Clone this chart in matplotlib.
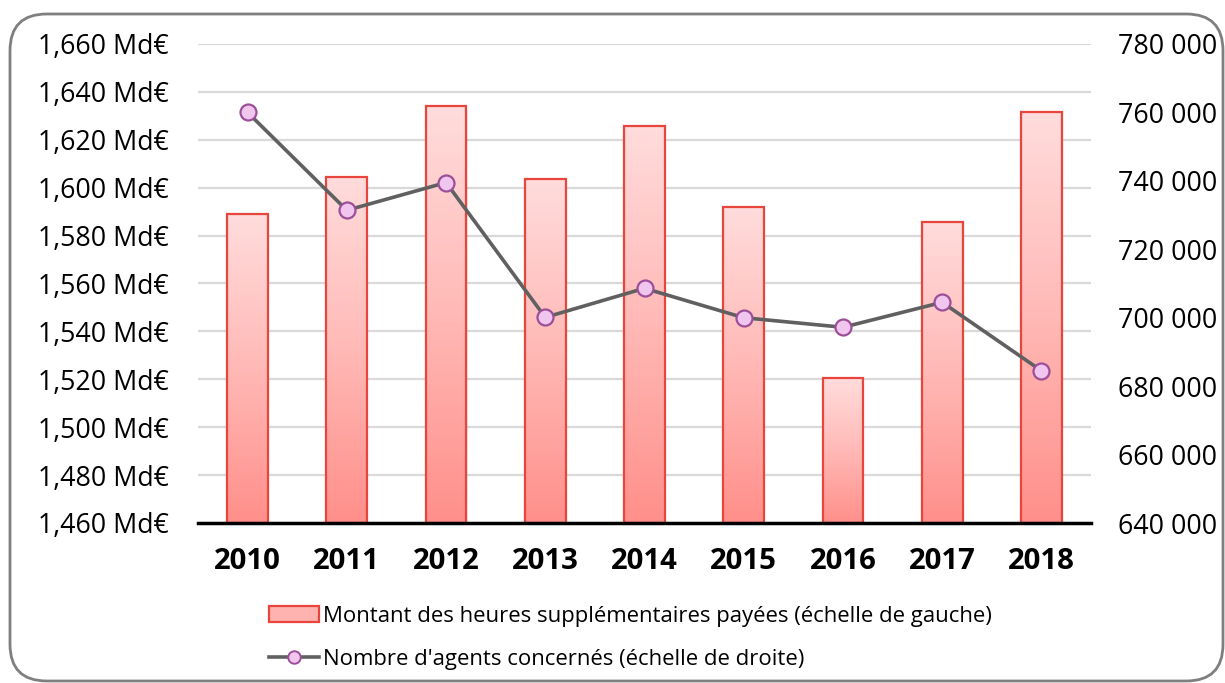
import matplotlib
matplotlib.use("Agg")
import matplotlib.pyplot as plt
import numpy as np
from matplotlib.patches import FancyBboxPatch, Rectangle
from matplotlib.lines import Line2D
from matplotlib.ticker import FuncFormatter, MultipleLocator
from matplotlib.colors import LinearSegmentedColormap

plt.rcParams['font.family'] = ['Open Sans', 'DejaVu Sans']

years = ["2010", "2011", "2012", "2013", "2014", "2015", "2016", "2017", "2018"]
montant = [1.589, 1.6045, 1.634, 1.6035, 1.6258, 1.592, 1.5205, 1.5857, 1.6315]
agents = [760000, 731400, 739500, 700100, 708600, 700000, 697200, 704500, 684500]

bar_label = "Montant des heures supplémentaires payées (échelle de gauche)"
line_label = "Nombre d'agents concernés (échelle de droite)"

fig = plt.figure(figsize=(12.25, 6.83), dpi=100)
fig.patch.set_facecolor("white")

border = FancyBboxPatch((10/1225, 2/683), 1213/1225, 667/683,
                        boxstyle="round,pad=0,rounding_size=0.03",
                        transform=fig.transFigure, facecolor="none",
                        edgecolor="#7f7f7f", linewidth=2.0, zorder=-1,
                        mutation_aspect=1225/683)
fig.patches.append(border)

ax = fig.add_axes([198/1225, 1 - 523/683, (1091-198)/1225, (523-44)/683])
ax.set_facecolor("none")
x = np.arange(len(years))
ax.yaxis.set_major_locator(MultipleLocator(0.020))
ax.yaxis.set_major_formatter(FuncFormatter(lambda v, p: f"{v:.3f}".replace(".", ",") + " Md€"))
ax.grid(axis="y", color="#d9d9d9", linewidth=1.6, zorder=0)
ax.set_axisbelow(True)
for s in ["top", "right", "left"]:
    ax.spines[s].set_visible(False)
ax.spines["bottom"].set_color("black")
ax.spines["bottom"].set_linewidth(2.5)
ax.spines["bottom"].set_zorder(5)
ax.tick_params(axis="y", length=0, pad=21, labelsize=19.3)
ax.tick_params(axis="x", length=0, pad=17.5, labelsize=21.2)
ax.set_xticks(x)
ax.set_xticklabels(years, fontweight="bold")

# gradient bars
width = 0.41
grad = np.linspace(0, 1, 256).reshape(-1, 1)
cmap = LinearSegmentedColormap.from_list("pinkgrad", ["#ff8f8a", "#ffb9b6", "#ffdcdc"])
bars = ax.bar(x, np.array(montant) - 1.460, bottom=1.460, width=width,
              facecolor="none", edgecolor="#e8463c", linewidth=1.6, zorder=3)
for b in bars:
    x0, y0 = b.get_x(), b.get_y()
    w, h = b.get_width(), b.get_height()
    sh = Rectangle((x0 + 0.012, y0), w, h - 0.0015, facecolor="#000000", alpha=0.08,
                   edgecolor="none", zorder=2)
    ax.add_patch(sh)
    ax.imshow(grad, extent=[x0, x0 + w, y0, y0 + h], origin="lower",
              cmap=cmap, aspect="auto", zorder=2.5, interpolation="bicubic")
ax.set_xlim(-0.5, len(years) - 0.5)
ax.set_ylim(1.460, 1.660)

ax2 = ax.twinx()
ax2.set_ylim(640000, 780000)
ax2.yaxis.set_major_locator(MultipleLocator(20000))
ax2.yaxis.set_major_formatter(FuncFormatter(lambda v, p: f"{int(v):,}".replace(",", " ")))
for s in ["top", "right", "left", "bottom"]:
    ax2.spines[s].set_visible(False)
ax2.tick_params(axis="y", length=0, pad=19.5, labelsize=19.3)
ax2.plot(x, agents, color="#606060", linewidth=2.6, zorder=4,
         marker="o", markersize=11.5, markerfacecolor="#f0c6ee",
         markeredgecolor="#9c4f98", markeredgewidth=1.6)

handles = [
    Rectangle((0, 0), 1, 1, facecolor="#ffb3b0", edgecolor="#e8463c", linewidth=1.6),
    Line2D([0], [0], color="#606060", linewidth=2.6, marker="o", markersize=9,
           markerfacecolor="#f0c6ee", markeredgecolor="#9c4f98", markeredgewidth=1.4),
]
fig.legend(handles, [bar_label, line_label], loc="center",
           bbox_to_anchor=(630/1225, 1 - 638/683), frameon=False, fontsize=15.9,
           handlelength=2.3, handleheight=0.75, handletextpad=0.15, labelspacing=1.0)

fig.savefig("out.png", dpi=100)
